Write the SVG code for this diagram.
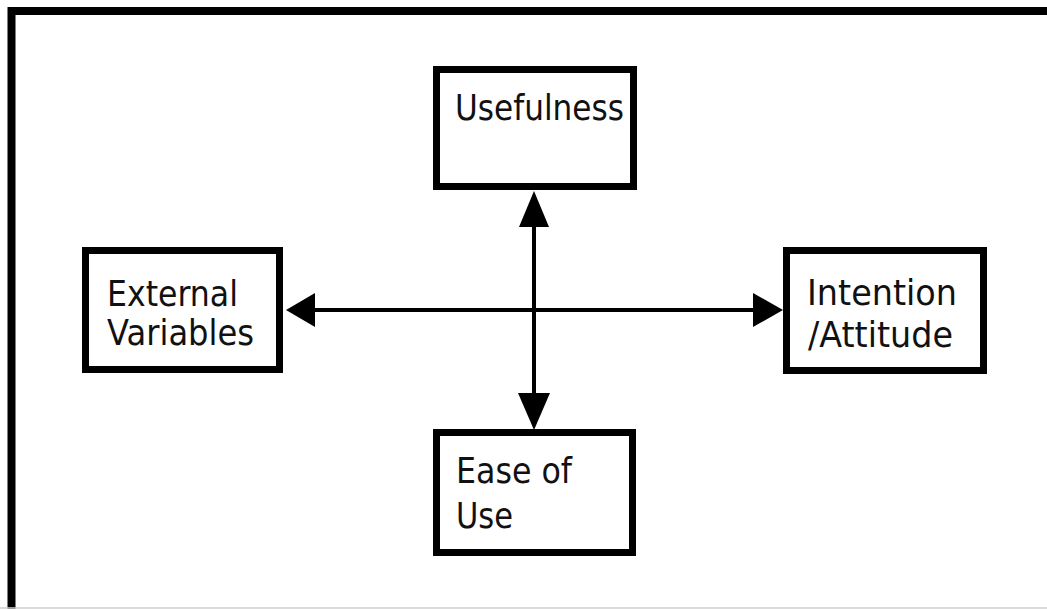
<svg xmlns="http://www.w3.org/2000/svg" width="1047" height="609" viewBox="0 0 1047 609">
  <style>
    .box { fill: #ffffff; stroke: #000000; stroke-width: 7; }
    .lbl { font-family: "DejaVu Sans", Tahoma, Verdana, sans-serif; font-size: 36px; fill: #111111; }
    .line { stroke: #000000; stroke-width: 4; fill: none; }
    .head { fill: #000000; stroke: none; }
  </style>
  <rect x="0" y="0" width="1047" height="609" fill="#ffffff"/>
  <path d="M11.5,609 V11 H1047" fill="none" stroke="#000000" stroke-width="8"/>
  <line x1="0" y1="608" x2="1047" y2="608" stroke="#cfcfcf" stroke-width="1.5"/>

  <g id="connectors">
    <line class="line" x1="305" y1="310" x2="765" y2="310"/>
    <line class="line" x1="534" y1="215" x2="534" y2="405"/>
    <polygon class="head" points="286,310 315,293 315,327"/>
    <polygon class="head" points="783,310 753,293 753,327"/>
    <polygon class="head" points="534,191 519,227 549,227"/>
    <polygon class="head" points="534,430 518,393 550,393"/>
  </g>

  <g id="usefulness">
    <rect class="box" x="436.5" y="69.5" width="197" height="117"/>
    <text class="lbl" x="455" y="120" textLength="169" lengthAdjust="spacingAndGlyphs">Usefulness</text>
  </g>

  <g id="external-variables">
    <rect class="box" x="85.5" y="250.5" width="194" height="119"/>
    <text class="lbl" x="107" y="306" textLength="131" lengthAdjust="spacingAndGlyphs">External</text>
    <text class="lbl" x="107" y="345" textLength="147" lengthAdjust="spacingAndGlyphs">Variables</text>
  </g>

  <g id="intention-attitude">
    <rect class="box" x="786.5" y="250.5" width="197" height="120"/>
    <text class="lbl" x="807" y="305" textLength="150" lengthAdjust="spacingAndGlyphs">Intention</text>
    <text class="lbl" x="808" y="347" textLength="145" lengthAdjust="spacingAndGlyphs">/Attitude</text>
  </g>

  <g id="ease-of-use">
    <rect class="box" x="436.5" y="432.5" width="196" height="120"/>
    <text class="lbl" x="456" y="483" textLength="116" lengthAdjust="spacingAndGlyphs">Ease of</text>
    <text class="lbl" x="456" y="528" textLength="57" lengthAdjust="spacingAndGlyphs">Use</text>
  </g>
</svg>
